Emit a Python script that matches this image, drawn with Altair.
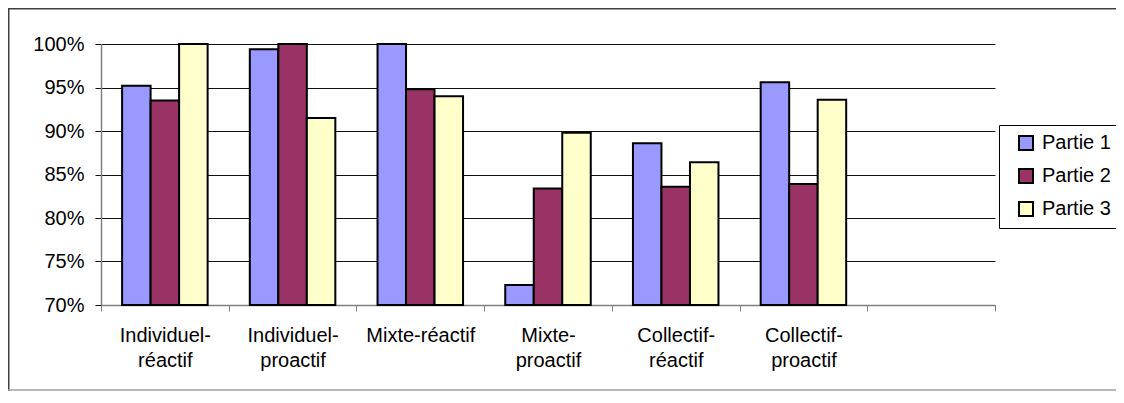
import altair as alt
import pandas as pd

categories = ["Individuel-\nréactif", "Individuel-\nproactif", "Mixte-réactif",
              "Mixte-\nproactif", "Collectif-\nréactif", "Collectif-\nproactif", " "]
series = ["Partie 1", "Partie 2", "Partie 3"]
partie1 = [0.952, 0.994, 1.000, 0.723, 0.886, 0.956]
partie2 = [0.935, 1.000, 0.948, 0.834, 0.836, 0.839]
partie3 = [1.000, 0.915, 0.940, 0.898, 0.864, 0.936]
y_ticks = [0.70, 0.75, 0.80, 0.85, 0.90, 0.95, 1.00]
colors = ["#9999FF", "#993366", "#FFFFCC"]

rows = []
for s, vals in zip(series, [partie1, partie2, partie3]):
    for c, v in zip(categories, vals):
        rows.append({"cat": c, "serie": s, "val": v})
df = pd.DataFrame(rows)

W, H = 894, 261
PAD = {"left": 93, "top": 36, "right": 121, "bottom": 86}
FONT = "Liberation Sans"

bars = alt.Chart(df).mark_bar(stroke="black", strokeWidth=2).encode(
    x=alt.X("cat:N", sort=categories,
            scale=alt.Scale(domain=categories, paddingInner=0, paddingOuter=0),
            axis=alt.Axis(title=None,
                          labelExpr="isValid(datum.value) ? split(datum.value, '\\n') : ''",
                          labelFont=FONT, labelFontSize=20, labelColor="black",
                          labelLineHeight=25, labelPadding=14, labelAngle=0,
                          tickBand="extent", tickSize=6, tickColor="#808080",
                          domainColor="#808080", domainWidth=1.5, grid=False)),
    xOffset=alt.XOffset("serie:N", sort=series,
                        scale=alt.Scale(domain=series, paddingInner=0, paddingOuter=0.74)),
    y=alt.Y("val:Q", scale=alt.Scale(domain=[0.7, 1.0], zero=False, nice=False),
            axis=alt.Axis(title=None, values=y_ticks, format=".0%", grid=True,
                          gridColor="#111111", gridWidth=1, tickColor="#111111",
                          tickSize=6, domainColor="#808080", domainWidth=1.5,
                          labelFont=FONT, labelFontSize=20, labelColor="black",
                          labelPadding=11)),
    y2=alt.datum(0.7),
    fill=alt.Fill("serie:N", scale=alt.Scale(domain=series, range=colors),
                  legend=alt.Legend(title=None, orient="none", legendX=898, legendY=81,
                                    strokeColor="black", fillColor="white", padding=8,
                                    symbolType="square", symbolSize=196,
                                    symbolStrokeColor="black", symbolStrokeWidth=2,
                                    symbolOffset=9, labelOffset=6,
                                    labelFont=FONT, labelFontSize=20, labelColor="black",
                                    rowPadding=11)),
)

one = pd.DataFrame({"a": [0]})
frame_top = alt.Chart(one).mark_rule(color="#404040", strokeWidth=1.5).encode(
    x=alt.value(-PAD["left"] + 0.5), x2=alt.value(W + PAD["right"]), y=alt.value(-PAD["top"] + 0.75))
frame_left = alt.Chart(one).mark_rule(color="#404040", strokeWidth=1.5).encode(
    x=alt.value(-PAD["left"] + 0.75), y=alt.value(-PAD["top"]), y2=alt.value(H + PAD["bottom"]))
frame_bottom = alt.Chart(one).mark_rule(color="#a0a0a0", strokeWidth=1.5).encode(
    x=alt.value(-PAD["left"]), x2=alt.value(W + PAD["right"]), y=alt.value(H + PAD["bottom"] - 1))

chart = alt.layer(frame_top, frame_left, frame_bottom, bars).properties(
    width=W, height=H,
    autosize=alt.AutoSizeParams(type="none"),
    padding=PAD,
    background="white",
).configure_view(stroke=None)

chart.save("out.html", embed_options={"renderer": "svg", "actions": False})
